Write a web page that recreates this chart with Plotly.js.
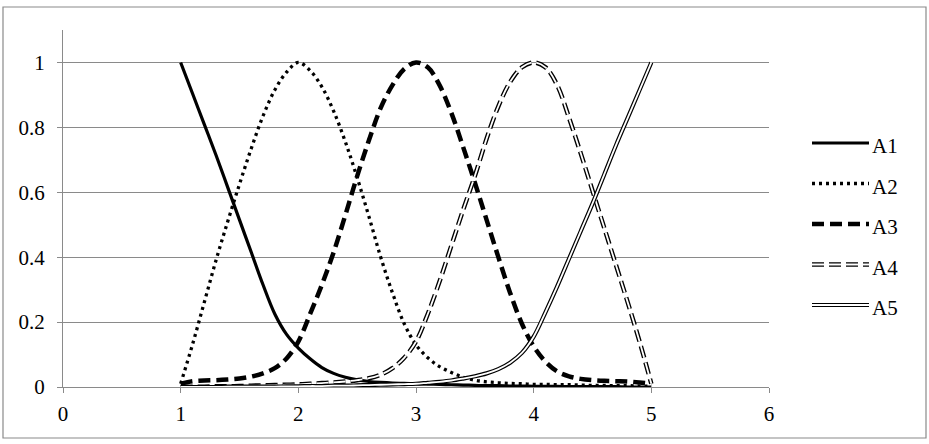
<!DOCTYPE html>
<html>
<head>
<meta charset="utf-8">
<script src="https://cdn.plot.ly/plotly-3.0.1.min.js"></script>
<style>
  html, body { margin: 0; padding: 0; background: #fff; }
  #chart { width: 929px; height: 444px; }
  #chart text { font-family: 'Liberation Serif', serif !important; }
</style>
</head>
<body>
<div id="chart"></div>
<script>
// x positions shared by every series
const xValues = [1.0, 1.1, 1.2, 1.3, 1.4, 1.5, 1.6, 1.7, 1.8, 1.9,
                 2.0, 2.1, 2.2, 2.3, 2.4, 2.5, 2.6, 2.7, 2.8, 2.9,
                 3.0, 3.1, 3.2, 3.3, 3.4, 3.5, 3.6, 3.7, 3.8, 3.9,
                 4.0, 4.1, 4.2, 4.3, 4.4, 4.5, 4.6, 4.7, 4.8, 4.9, 5.0];

const seriesA1 = [1.0, 0.905, 0.81, 0.715, 0.615, 0.515, 0.415, 0.315, 0.225, 0.162,
                  0.12, 0.087, 0.06, 0.042, 0.03, 0.022, 0.017, 0.014, 0.012, 0.011,
                  0.01, 0.009, 0.008, 0.007, 0.006, 0.005, 0.004, 0.004, 0.003, 0.003,
                  0.002, 0.002, 0.002, 0.001, 0.001, 0.001, 0.001, 0.001, 0, 0, 0];

const seriesA2 = [0.01, 0.13, 0.26, 0.39, 0.51, 0.625, 0.735, 0.835, 0.915, 0.97,
                  1.0, 0.975, 0.925, 0.85, 0.755, 0.645, 0.525, 0.4, 0.29, 0.195,
                  0.13, 0.09, 0.063, 0.045, 0.03, 0.021, 0.016, 0.013, 0.011, 0.01,
                  0.008, 0.008, 0.007, 0.007, 0.006, 0.005, 0.005, 0.004, 0.004, 0.003, 0.003];

const seriesA3 = [0.01, 0.018, 0.02, 0.021, 0.023, 0.026, 0.032, 0.042, 0.058, 0.088,
                  0.14, 0.225, 0.315, 0.415, 0.53, 0.65, 0.76, 0.86, 0.93, 0.98,
                  1.0, 0.985, 0.93, 0.845, 0.74, 0.63, 0.515, 0.4, 0.29, 0.195,
                  0.125, 0.078, 0.048, 0.033, 0.025, 0.021, 0.019, 0.018, 0.017, 0.014, 0.01];

const seriesA4 = [0, 0.001, 0.001, 0.002, 0.002, 0.003, 0.004, 0.005, 0.006, 0.007,
                  0.008, 0.01, 0.012, 0.014, 0.017, 0.021, 0.027, 0.038, 0.058, 0.09,
                  0.14, 0.225, 0.325, 0.435, 0.545, 0.65, 0.765, 0.865, 0.94, 0.985,
                  1.0, 0.985, 0.93, 0.83, 0.72, 0.605, 0.49, 0.375, 0.26, 0.14, 0.01];

const seriesA5 = [0, 0, 0, 0, 0.001, 0.001, 0.001, 0.001, 0.001, 0.002,
                  0.002, 0.003, 0.003, 0.004, 0.004, 0.005, 0.006, 0.007, 0.008, 0.009,
                  0.01, 0.013, 0.016, 0.02, 0.026, 0.033, 0.042, 0.055, 0.075, 0.105,
                  0.155, 0.23, 0.31, 0.395, 0.48, 0.565, 0.655, 0.745, 0.83, 0.915, 1.0];

const seriesNames = ['A1', 'A2', 'A3', 'A4', 'A5'];

function drawChart() {
    const chartW = 929, chartH = 444;
    const marg = { l: 63, r: 160, t: 30, b: 57 };
    const plotW = chartW - marg.l - marg.r;
    const plotH = chartH - marg.t - marg.b;
    const fontName = 'Liberation Serif';
    const gridColor = '#8a8a8a';

    // pixel -> paper helpers for things outside the plot area
    const pxX = px => (px - marg.l) / plotW;
    const pxY = py => (chartH - marg.b - py) / plotH;

    // line styles; "inner" draws a white core to get the double lines
    const lineStyles = [
        { width: 3.2, dash: 'solid' },
        { width: 3.3, dash: '3px,4px' },
        { width: 4.5, dash: '12px,6px' },
        { width: 4.5, dash: '12px,5px', inner: 1.8 },
        { width: 4.2, dash: 'solid', inner: 1.8 }
    ];

    const allSeries = [seriesA1, seriesA2, seriesA3, seriesA4, seriesA5];
    const traces = [];
    allSeries.forEach((y, i) => {
        const st = lineStyles[i];
        traces.push({
            type: 'scatter', mode: 'lines', x: xValues, y: y, name: seriesNames[i],
            line: { color: '#000', width: st.width, dash: st.dash, shape: 'spline', smoothing: 1 },
            showlegend: false, hoverinfo: 'skip'
        });
        if (st.inner) {
            traces.push({
                type: 'scatter', mode: 'lines', x: xValues, y: y, name: seriesNames[i],
                line: { color: '#fff', width: st.inner, dash: st.dash, shape: 'spline', smoothing: 1 },
                showlegend: false, hoverinfo: 'skip'
            });
        }
    });

    // hand-drawn legend so the double lines look right
    const shapeList = [];
    const noteList = [];

    // outer chart border
    shapeList.push({
        type: 'rect', xref: 'paper', yref: 'paper',
        x0: pxX(3), x1: pxX(926), y0: pxY(438), y1: pxY(7),
        line: { color: gridColor, width: 1.2 }, layer: 'below'
    });

    seriesNames.forEach((name, i) => {
        const st = lineStyles[i];
        const py = 143 + 40.5 * i;
        shapeList.push({
            type: 'line', xref: 'paper', yref: 'paper',
            x0: pxX(812), x1: pxX(869), y0: pxY(py), y1: pxY(py),
            line: { color: '#000', width: st.width, dash: st.dash }
        });
        if (st.inner) {
            shapeList.push({
                type: 'line', xref: 'paper', yref: 'paper',
                x0: pxX(812), x1: pxX(869), y0: pxY(py), y1: pxY(py),
                line: { color: '#fff', width: st.inner, dash: st.dash }
            });
        }
        noteList.push({
            xref: 'paper', yref: 'paper', x: pxX(870), y: pxY(py + 3),
            xanchor: 'left', yanchor: 'middle', showarrow: false,
            text: name, font: { family: fontName, size: 21, color: '#000' }
        });
    });

    const layout = {
        width: chartW, height: chartH,
        margin: marg,
        font: { family: fontName, size: 21, color: '#000' },
        showlegend: false,
        xaxis: {
            range: [0, 6], dtick: 1, tick0: 0,
            showgrid: false, zeroline: false,
            showline: true, linecolor: gridColor, linewidth: 1,
            ticks: 'outside', ticklen: 5, tickcolor: gridColor, tickwidth: 1,
            ticklabelstandoff: 3,
            tickfont: { family: fontName, size: 21, color: '#000' }
        },
        yaxis: {
            range: [0, 1.1], dtick: 0.2, tick0: 0,
            showgrid: true, gridcolor: gridColor, gridwidth: 1, zeroline: false,
            showline: true, linecolor: gridColor, linewidth: 1,
            ticks: 'outside', ticklen: 5, tickcolor: gridColor, tickwidth: 1,
            ticklabelstandoff: 8,
            tickfont: { family: fontName, size: 21, color: '#000' }
        },
        shapes: shapeList,
        annotations: noteList
    };

    Plotly.newPlot('chart', traces, layout, { displayModeBar: false, staticPlot: true });
}

drawChart();
</script>
</body>
</html>
